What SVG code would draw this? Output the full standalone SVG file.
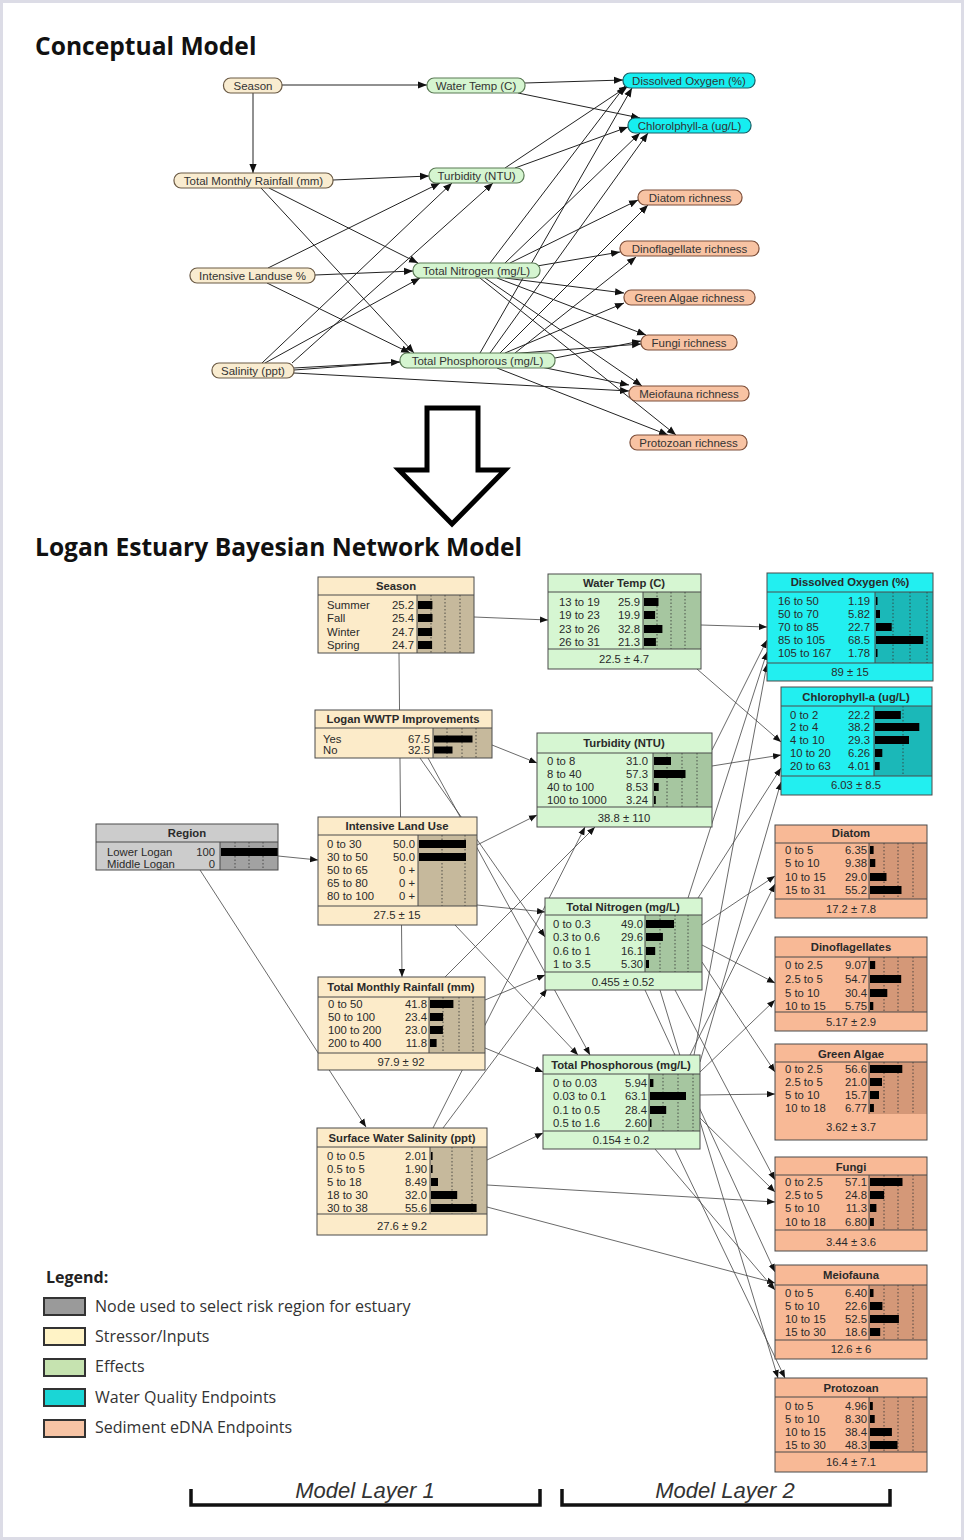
<svg xmlns="http://www.w3.org/2000/svg" width="964" height="1540" viewBox="0 0 964 1540">
<defs>
<marker id="ah" viewBox="0 0 10 10" refX="10" refY="5" markerWidth="9" markerHeight="9" markerUnits="userSpaceOnUse" orient="auto"><path d="M0,1 L10,5 L0,9 z" fill="#111"/></marker>
<marker id="ah2" viewBox="0 0 10 10" refX="10" refY="5" markerWidth="8" markerHeight="8" markerUnits="userSpaceOnUse" orient="auto"><path d="M0,1 L10,5 L0,9 z" fill="#111"/></marker>
</defs>
<style>
text{font-family:"Liberation Sans",Arial,sans-serif}
.h{font-family:"Open Sans","Liberation Sans",sans-serif;font-size:24.6px;font-weight:bold;fill:#111}
.ct{font-size:11.5px;fill:#333;text-anchor:middle}
.cb{fill:#f9ecd0;stroke:#6b5a45;stroke-width:1.2}
.cg{fill:#d5f5d0;stroke:#5b7a55;stroke-width:1.2}
.cc{fill:#16eef0;stroke:#1a5f66;stroke-width:1.2}
.cs{fill:#f8c3a3;stroke:#7d4f3a;stroke-width:1.2}
.e{stroke:#222;stroke-width:1;fill:none;marker-end:url(#ah)}
.l{stroke:#444;stroke-width:0.8;fill:none;marker-end:url(#ah2)}
.nt{font-size:11.3px;fill:#2a2a2a}
.ttl{font-size:11.3px;font-weight:bold;fill:#2a2a2a;text-anchor:middle}
.r{text-anchor:end}
.m{text-anchor:middle}
.bd{fill:none;stroke:#4a4a4a;stroke-width:1}
.sep{stroke:#4a4a4a;stroke-width:1;fill:none}
.dt{stroke:#333;stroke-width:0.8;stroke-dasharray:1.5 2;fill:none}
.br{fill:#000}
.beige{fill:#fcebc9}.beigeb{fill:#c6b99c}
.green{fill:#d6f6d2}.greenb{fill:#a6c6a0}
.cyan{fill:#22eff0}.cyanb{fill:#1bb8b8}
.salm{fill:#f8b996}.salmb{fill:#d49878}
.gray{fill:#cccccc}.grayb{fill:#a2a2a2}
.lg{font-family:"Open Sans","Liberation Sans",sans-serif;font-size:16px;fill:#333}
.lb{stroke:#333;stroke-width:2}
.ml{font-size:22px;font-style:italic;fill:#333;text-anchor:middle}
</style>
<rect x="1.5" y="1.5" width="961" height="1537" fill="#fff" stroke="#dcdce6" stroke-width="3"/>
<text class="h" x="35" y="55">Conceptual Model</text>
<text class="h" x="35" y="556">Logan Estuary Bayesian Network Model</text>

<g id="concept-links">
<path class="e" d="M282,85 L427,85"/>
<path class="e" d="M253,93 L253,173"/>
<path class="e" d="M525,83 L623,80"/>
<path class="e" d="M518,93 L640,118"/>
<path class="e" d="M333,180 L429,176"/>
<path class="e" d="M269,188 L418,263"/>
<path class="e" d="M261,188 L414,353"/>
<path class="e" d="M268,268 L440,183"/>
<path class="e" d="M262,363 L452,183"/>
<path class="e" d="M292,363 L493,183"/>
<path class="e" d="M315,275 L413,271"/>
<path class="e" d="M267,283 L410,353"/>
<path class="e" d="M265,363 L420,278"/>
<path class="e" d="M294,368 L400,362"/>
<path class="e" d="M294,370 L641,344"/>
<path class="e" d="M294,373 L629,391"/>
<path class="e" d="M515,168 L628,127"/>
<path class="e" d="M505,168 L628,86"/>
<path class="e" d="M490,263 L625,86"/>
<path class="e" d="M505,263 L640,133"/>
<path class="e" d="M510,263 L638,200"/>
<path class="e" d="M537,266 L620,252"/>
<path class="e" d="M505,278 L624,293"/>
<path class="e" d="M497,278 L646,335"/>
<path class="e" d="M485,278 L642,386"/>
<path class="e" d="M480,278 L676,435"/>
<path class="e" d="M480,353 L632,88"/>
<path class="e" d="M490,353 L648,133"/>
<path class="e" d="M500,353 L648,205"/>
<path class="e" d="M515,353 L636,257"/>
<path class="e" d="M505,353 L624,303"/>
<path class="e" d="M555,358 L641,341"/>
<path class="e" d="M541,367 L629,385"/>
<path class="e" d="M497,368 L668,435"/>
</g>

<g id="c-season"><rect class="cb" x="223.5" y="78" width="58.5" height="15" rx="7"/><text class="ct" x="253" y="89.5">Season</text></g>
<g id="c-watertemp"><rect class="cg" x="427" y="78" width="98" height="15" rx="7"/><text class="ct" x="476" y="89.5">Water Temp (C)</text></g>
<g id="c-do"><rect class="cc" x="623" y="73" width="132" height="15" rx="7"/><text class="ct" x="689" y="84.5">Dissolved Oxygen (%)</text></g>
<g id="c-chl"><rect class="cc" x="628" y="118" width="123" height="15" rx="7"/><text class="ct" x="689.5" y="129.5">Chlorolphyll-a (ug/L)</text></g>
<g id="c-rainfall"><rect class="cb" x="174" y="173" width="159" height="15" rx="7"/><text class="ct" x="253.5" y="184.5">Total Monthly Rainfall (mm)</text></g>
<g id="c-turbidity"><rect class="cg" x="429" y="168" width="95" height="15" rx="7"/><text class="ct" x="476.5" y="179.5">Turbidity (NTU)</text></g>
<g id="c-diatom"><rect class="cs" x="638" y="190" width="104" height="15" rx="7"/><text class="ct" x="690" y="201.5">Diatom richness</text></g>
<g id="c-dino"><rect class="cs" x="620" y="241" width="139" height="15" rx="7"/><text class="ct" x="689.5" y="252.5">Dinoflagellate richness</text></g>
<g id="c-landuse"><rect class="cb" x="190" y="268" width="125" height="15" rx="7"/><text class="ct" x="252.5" y="279.5">Intensive Landuse %</text></g>
<g id="c-tn"><rect class="cg" x="413" y="263" width="127" height="15" rx="7"/><text class="ct" x="476.5" y="274.5">Total Nitrogen (mg/L)</text></g>
<g id="c-greenalgae"><rect class="cs" x="624" y="290" width="131" height="15" rx="7"/><text class="ct" x="689.5" y="301.5">Green Algae richness</text></g>
<g id="c-fungi"><rect class="cs" x="641" y="335" width="96" height="15" rx="7"/><text class="ct" x="689" y="346.5">Fungi richness</text></g>
<g id="c-salinity"><rect class="cb" x="212" y="363" width="82" height="15" rx="7"/><text class="ct" x="253" y="374.5">Salinity (ppt)</text></g>
<g id="c-tp"><rect class="cg" x="400" y="353" width="155" height="15" rx="7"/><text class="ct" x="477.5" y="364.5">Total Phosphorous (mg/L)</text></g>
<g id="c-meiofauna"><rect class="cs" x="629" y="386" width="120" height="15" rx="7"/><text class="ct" x="689" y="397.5">Meiofauna richness</text></g>
<g id="c-protozoan"><rect class="cs" x="630" y="435" width="117" height="15" rx="7"/><text class="ct" x="688.5" y="446.5">Protozoan richness</text></g>

<g id="big-arrow"><path d="M427,408 L478,408 L478,470 L505,470 L452,524 L399,470 L427,470 Z" fill="#fff" stroke="#000" stroke-width="5"/></g>

<g id="bn-links">
<path class="l" d="M474,617 L548,620"/>
<path class="l" d="M399,653 L402,977"/>
<path class="l" d="M492,745 L537,763"/>
<path class="l" d="M420,758 L545,937"/>
<path class="l" d="M428,758 L590,1055"/>
<path class="l" d="M278,856 L318,860"/>
<path class="l" d="M200,870 L366,1127"/>
<path class="l" d="M477,845 L537,815"/>
<path class="l" d="M477,905 L545,912"/>
<path class="l" d="M455,925 L578,1055"/>
<path class="l" d="M445,977 L595,827"/>
<path class="l" d="M485,1000 L545,975"/>
<path class="l" d="M485,1048 L543,1072"/>
<path class="l" d="M433,1128 L585,827"/>
<path class="l" d="M443,1128 L547,989"/>
<path class="l" d="M487,1160 L543,1133"/>
<path class="l" d="M487,1185 L775,1202"/>
<path class="l" d="M487,1207 L775,1283"/>
<path class="l" d="M701,625 L767,627"/>
<path class="l" d="M697,669 L781,742"/>
<path class="l" d="M712,750 L767,640"/>
<path class="l" d="M712,766 L781,755"/>
<path class="l" d="M688,898 L767,652"/>
<path class="l" d="M698,898 L781,768"/>
<path class="l" d="M694,1055 L767,664"/>
<path class="l" d="M700,1062 L781,782"/>
<path class="l" d="M702,925 L775,876"/>
<path class="l" d="M690,1055 L775,884"/>
<path class="l" d="M702,945 L775,983"/>
<path class="l" d="M700,1072 L775,1000"/>
<path class="l" d="M702,962 L775,1072"/>
<path class="l" d="M700,1095 L775,1094"/>
<path class="l" d="M675,990 L775,1180"/>
<path class="l" d="M700,1118 L775,1192"/>
<path class="l" d="M645,990 L775,1272"/>
<path class="l" d="M655,1149 L775,1290"/>
<path class="l" d="M660,990 L778,1378"/>
<path class="l" d="M675,1149 L785,1378"/>
</g>

<g id="bn-season">
<rect class="beige" x="318" y="577" width="156" height="76"/>
<rect class="beigeb" x="417" y="595" width="57" height="58"/>
<path class="dt" d="M431,595V653M445,595V653M460,595V653"/>
<rect class="br" x="418" y="601" width="14.4" height="8"/><rect class="br" x="418" y="614" width="14.5" height="8"/><rect class="br" x="418" y="628" width="14.1" height="8"/><rect class="br" x="418" y="641" width="14.1" height="8"/>
<text class="ttl" x="396" y="590">Season</text>
<text class="nt" x="327" y="609">Summer</text><text class="nt r" x="414" y="609">25.2</text>
<text class="nt" x="327" y="622">Fall</text><text class="nt r" x="414" y="622">25.4</text>
<text class="nt" x="327" y="636">Winter</text><text class="nt r" x="414" y="636">24.7</text>
<text class="nt" x="327" y="649">Spring</text><text class="nt r" x="414" y="649">24.7</text>
<path class="sep" d="M318,595H474M417,595V653"/>
<rect class="bd" x="318" y="577" width="156" height="76"/>
</g>

<g id="bn-watertemp">
<rect class="green" x="548" y="574" width="153" height="95"/>
<rect class="greenb" x="643" y="592" width="58" height="57"/>
<path class="dt" d="M657,592V649M671,592V649M685,592V649"/>
<rect class="br" x="644" y="598" width="14.5" height="8"/><rect class="br" x="644" y="611" width="11.1" height="8"/><rect class="br" x="644" y="625" width="18.4" height="8"/><rect class="br" x="644" y="638" width="11.9" height="8"/>
<text class="ttl" x="624" y="587">Water Temp (C)</text>
<text class="nt" x="559" y="606">13 to 19</text><text class="nt r" x="640" y="606">25.9</text>
<text class="nt" x="559" y="619">19 to 23</text><text class="nt r" x="640" y="619">19.9</text>
<text class="nt" x="559" y="633">23 to 26</text><text class="nt r" x="640" y="633">32.8</text>
<text class="nt" x="559" y="646">26 to 31</text><text class="nt r" x="640" y="646">21.3</text>
<text class="nt m" x="624" y="663">22.5 ± 4.7</text>
<path class="sep" d="M548,592H701M548,649H701M643,592V649"/>
<rect class="bd" x="548" y="574" width="153" height="95"/>
</g>

<g id="bn-wwtp">
<rect class="beige" x="315" y="710" width="177" height="48"/>
<rect class="beigeb" x="433" y="728" width="59" height="30"/>
<path class="dt" d="M447,728V758M462,728V758M476,728V758"/>
<rect class="br" x="434" y="735.5" width="38.5" height="7"/><rect class="br" x="434" y="746.5" width="18.5" height="7"/>
<text class="ttl" x="403" y="723">Logan WWTP Improvements</text>
<text class="nt" x="323" y="743">Yes</text><text class="nt r" x="430" y="743">67.5</text>
<text class="nt" x="323" y="754">No</text><text class="nt r" x="430" y="754">32.5</text>
<path class="sep" d="M315,728H492M433,728V758"/>
<rect class="bd" x="315" y="710" width="177" height="48"/>
</g>

<g id="bn-do">
<rect class="cyan" x="767" y="573" width="166" height="108"/>
<rect class="cyanb" x="875" y="592" width="58" height="71"/>
<path class="dt" d="M893,592V663M910,592V663M927,592V663"/>
<rect class="br" x="876" y="597" width="1.5" height="8"/><rect class="br" x="876" y="610" width="4" height="8"/><rect class="br" x="876" y="623" width="15.7" height="8"/><rect class="br" x="876" y="636" width="47.3" height="8"/><rect class="br" x="876" y="649" width="1.5" height="8"/>
<text class="ttl" x="850" y="586">Dissolved Oxygen (%)</text>
<text class="nt" x="778" y="605">16 to 50</text><text class="nt r" x="870" y="605">1.19</text>
<text class="nt" x="778" y="618">50 to 70</text><text class="nt r" x="870" y="618">5.82</text>
<text class="nt" x="778" y="631">70 to 85</text><text class="nt r" x="870" y="631">22.7</text>
<text class="nt" x="778" y="644">85 to 105</text><text class="nt r" x="870" y="644">68.5</text>
<text class="nt" x="778" y="657">105 to 167</text><text class="nt r" x="870" y="657">1.78</text>
<text class="nt m" x="850" y="676">89 ± 15</text>
<path class="sep" d="M767,592H933M767,663H933M875,592V663"/>
<rect class="bd" x="767" y="573" width="166" height="108"/>
</g>

<g id="bn-chl">
<rect class="cyan" x="781" y="687" width="151" height="108"/>
<rect class="cyanb" x="874" y="706" width="58" height="70"/>
<path class="dt" d="M903,706V776"/>
<rect class="br" x="875" y="711" width="25.8" height="8"/><rect class="br" x="875" y="723" width="44.3" height="8"/><rect class="br" x="875" y="736" width="34" height="8"/><rect class="br" x="875" y="749" width="7.3" height="8"/><rect class="br" x="875" y="762" width="4.7" height="8"/>
<text class="ttl" x="856" y="701">Chlorophyll-a (ug/L)</text>
<text class="nt" x="790" y="719">0 to 2</text><text class="nt r" x="870" y="719">22.2</text>
<text class="nt" x="790" y="731">2 to 4</text><text class="nt r" x="870" y="731">38.2</text>
<text class="nt" x="790" y="744">4 to 10</text><text class="nt r" x="870" y="744">29.3</text>
<text class="nt" x="790" y="757">10 to 20</text><text class="nt r" x="870" y="757">6.26</text>
<text class="nt" x="790" y="770">20 to 63</text><text class="nt r" x="870" y="770">4.01</text>
<text class="nt m" x="856" y="789">6.03 ± 8.5</text>
<path class="sep" d="M781,706H932M781,776H932M874,706V776"/>
<rect class="bd" x="781" y="687" width="151" height="108"/>
</g>

<g id="bn-region">
<rect class="gray" x="96" y="824" width="182" height="46"/>
<rect class="grayb" x="220" y="842" width="58" height="28"/>
<path class="dt" d="M235,842V870M249,842V870M263,842V870"/>
<rect class="br" x="221" y="848" width="57" height="8"/>
<text class="ttl" x="187" y="837">Region</text>
<text class="nt" x="107" y="856">Lower Logan</text><text class="nt r" x="215" y="856">100</text>
<text class="nt" x="107" y="868">Middle Logan</text><text class="nt r" x="215" y="868">0</text>
<path class="sep" d="M96,842H278M220,842V870"/>
<rect class="bd" x="96" y="824" width="182" height="46"/>
</g>

<g id="bn-landuse">
<rect class="beige" x="318" y="817" width="159" height="108"/>
<rect class="beigeb" x="418" y="835" width="59" height="71"/>
<path class="dt" d="M442,835V906M465,835V906"/>
<rect class="br" x="419" y="840" width="47" height="8"/><rect class="br" x="419" y="853" width="47" height="8"/>
<text class="ttl" x="397" y="830">Intensive Land Use</text>
<text class="nt" x="327" y="848">0 to 30</text><text class="nt r" x="415" y="848">50.0</text>
<text class="nt" x="327" y="861">30 to 50</text><text class="nt r" x="415" y="861">50.0</text>
<text class="nt" x="327" y="874">50 to 65</text><text class="nt r" x="415" y="874">0 +</text>
<text class="nt" x="327" y="887">65 to 80</text><text class="nt r" x="415" y="887">0 +</text>
<text class="nt" x="327" y="900">80 to 100</text><text class="nt r" x="415" y="900">0 +</text>
<text class="nt m" x="397" y="919">27.5 ± 15</text>
<path class="sep" d="M318,835H477M318,906H477M418,835V906"/>
<rect class="bd" x="318" y="817" width="159" height="108"/>
</g>

<g id="bn-turbidity">
<rect class="green" x="537" y="733" width="175" height="94"/>
<rect class="greenb" x="653" y="753" width="59" height="54"/>
<path class="dt" d="M667,753V807M682,753V807M697,753V807"/>
<rect class="br" x="654" y="757" width="17" height="8"/><rect class="br" x="654" y="770" width="31.5" height="8"/><rect class="br" x="654" y="783" width="4.7" height="8"/><rect class="br" x="654" y="796" width="1.8" height="8"/>
<text class="ttl" x="624" y="747">Turbidity (NTU)</text>
<text class="nt" x="547" y="765">0 to 8</text><text class="nt r" x="648" y="765">31.0</text>
<text class="nt" x="547" y="778">8 to 40</text><text class="nt r" x="648" y="778">57.3</text>
<text class="nt" x="547" y="791">40 to 100</text><text class="nt r" x="648" y="791">8.53</text>
<text class="nt" x="547" y="804">100 to 1000</text><text class="nt r" x="648" y="804">3.24</text>
<text class="nt m" x="624" y="822">38.8 ± 110</text>
<path class="sep" d="M537,753H712M537,807H712M653,753V807"/>
<rect class="bd" x="537" y="733" width="175" height="94"/>
</g>

<g id="bn-tn">
<rect class="green" x="545" y="898" width="157" height="92"/>
<rect class="greenb" x="645" y="915" width="57" height="57"/>
<path class="dt" d="M660,915V972M675,915V972M688,915V972"/>
<rect class="br" x="646" y="920" width="28" height="8"/><rect class="br" x="646" y="933" width="16.9" height="8"/><rect class="br" x="646" y="947" width="9.2" height="8"/><rect class="br" x="646" y="960" width="3" height="8"/>
<text class="ttl" x="623" y="911">Total Nitrogen (mg/L)</text>
<text class="nt" x="553" y="928">0 to 0.3</text><text class="nt r" x="643" y="928">49.0</text>
<text class="nt" x="553" y="941">0.3 to 0.6</text><text class="nt r" x="643" y="941">29.6</text>
<text class="nt" x="553" y="955">0.6 to 1</text><text class="nt r" x="643" y="955">16.1</text>
<text class="nt" x="553" y="968">1 to 3.5</text><text class="nt r" x="643" y="968">5.30</text>
<text class="nt m" x="623" y="986">0.455 ± 0.52</text>
<path class="sep" d="M545,915H702M545,972H702M645,915V972"/>
<rect class="bd" x="545" y="898" width="157" height="92"/>
</g>

<g id="bn-rainfall">
<rect class="beige" x="318" y="977" width="167" height="93"/>
<rect class="beigeb" x="429" y="997" width="56" height="56"/>
<path class="dt" d="M443,997V1053M459,997V1053M473,997V1053"/>
<rect class="br" x="430" y="1000" width="23.4" height="8"/><rect class="br" x="430" y="1013" width="13.1" height="8"/><rect class="br" x="430" y="1026" width="12.9" height="8"/><rect class="br" x="430" y="1039" width="6.6" height="8"/>
<text class="ttl" x="401" y="991">Total Monthly Rainfall (mm)</text>
<text class="nt" x="328" y="1008">0 to 50</text><text class="nt r" x="427" y="1008">41.8</text>
<text class="nt" x="328" y="1021">50 to 100</text><text class="nt r" x="427" y="1021">23.4</text>
<text class="nt" x="328" y="1034">100 to 200</text><text class="nt r" x="427" y="1034">23.0</text>
<text class="nt" x="328" y="1047">200 to 400</text><text class="nt r" x="427" y="1047">11.8</text>
<text class="nt m" x="401" y="1066">97.9 ± 92</text>
<path class="sep" d="M318,997H485M318,1053H485M429,997V1053"/>
<rect class="bd" x="318" y="977" width="167" height="93"/>
</g>

<g id="bn-tp">
<rect class="green" x="543" y="1055" width="157" height="94"/>
<rect class="greenb" x="649" y="1074" width="51" height="57"/>
<path class="dt" d="M663,1074V1131M678,1074V1131M693,1074V1131"/>
<rect class="br" x="650" y="1079" width="3.4" height="8"/><rect class="br" x="650" y="1092" width="36" height="8"/><rect class="br" x="650" y="1106" width="16.2" height="8"/><rect class="br" x="650" y="1119" width="1.5" height="8"/>
<text class="ttl" x="621" y="1069">Total Phosphorous (mg/L)</text>
<text class="nt" x="553" y="1087">0 to 0.03</text><text class="nt r" x="647" y="1087">5.94</text>
<text class="nt" x="553" y="1100">0.03 to 0.1</text><text class="nt r" x="647" y="1100">63.1</text>
<text class="nt" x="553" y="1114">0.1 to 0.5</text><text class="nt r" x="647" y="1114">28.4</text>
<text class="nt" x="553" y="1127">0.5 to 1.6</text><text class="nt r" x="647" y="1127">2.60</text>
<text class="nt m" x="621" y="1144">0.154 ± 0.2</text>
<path class="sep" d="M543,1074H700M543,1131H700M649,1074V1131"/>
<rect class="bd" x="543" y="1055" width="157" height="94"/>
</g>

<g id="bn-salinity">
<rect class="beige" x="317" y="1128" width="170" height="107"/>
<rect class="beigeb" x="430" y="1147" width="57" height="67"/>
<path class="dt" d="M452,1147V1214M472,1147V1214"/>
<rect class="br" x="431" y="1152" width="1.6" height="8"/><rect class="br" x="431" y="1165" width="1.6" height="8"/><rect class="br" x="431" y="1178" width="7" height="8"/><rect class="br" x="431" y="1191" width="26.2" height="8"/><rect class="br" x="431" y="1204" width="45.6" height="8"/>
<text class="ttl" x="402" y="1142">Surface Water Salinity (ppt)</text>
<text class="nt" x="327" y="1160">0 to 0.5</text><text class="nt r" x="427" y="1160">2.01</text>
<text class="nt" x="327" y="1173">0.5 to 5</text><text class="nt r" x="427" y="1173">1.90</text>
<text class="nt" x="327" y="1186">5 to 18</text><text class="nt r" x="427" y="1186">8.49</text>
<text class="nt" x="327" y="1199">18 to 30</text><text class="nt r" x="427" y="1199">32.0</text>
<text class="nt" x="327" y="1212">30 to 38</text><text class="nt r" x="427" y="1212">55.6</text>
<text class="nt m" x="402" y="1230">27.6 ± 9.2</text>
<path class="sep" d="M317,1147H487M317,1214H487M430,1147V1214"/>
<rect class="bd" x="317" y="1128" width="170" height="107"/>
</g>

<g id="bn-diatom">
<rect class="salm" x="775" y="825" width="152" height="93"/>
<rect class="salmb" x="869" y="843" width="58" height="56"/>
<path class="dt" d="M884,843V899M898,843V899M913,843V899"/>
<rect class="br" x="870" y="846" width="3.6" height="8"/><rect class="br" x="870" y="859" width="5.3" height="8"/><rect class="br" x="870" y="873" width="16.5" height="8"/><rect class="br" x="870" y="886" width="31.5" height="8"/>
<text class="ttl" x="851" y="837">Diatom</text>
<text class="nt" x="785" y="854">0 to 5</text><text class="nt r" x="867" y="854">6.35</text>
<text class="nt" x="785" y="867">5 to 10</text><text class="nt r" x="867" y="867">9.38</text>
<text class="nt" x="785" y="881">10 to 15</text><text class="nt r" x="867" y="881">29.0</text>
<text class="nt" x="785" y="894">15 to 31</text><text class="nt r" x="867" y="894">55.2</text>
<text class="nt m" x="851" y="913">17.2 ± 7.8</text>
<path class="sep" d="M775,843H927M775,899H927M869,843V899"/>
<rect class="bd" x="775" y="825" width="152" height="93"/>
</g>

<g id="bn-dino">
<rect class="salm" x="775" y="937" width="152" height="94"/>
<rect class="salmb" x="869" y="957" width="58" height="55"/>
<path class="dt" d="M884,957V1012M898,957V1012M913,957V1012"/>
<rect class="br" x="870" y="961" width="5.2" height="8"/><rect class="br" x="870" y="975" width="31.2" height="8"/><rect class="br" x="870" y="989" width="17.3" height="8"/><rect class="br" x="870" y="1002" width="3.3" height="8"/>
<text class="ttl" x="851" y="951">Dinoflagellates</text>
<text class="nt" x="785" y="969">0 to 2.5</text><text class="nt r" x="867" y="969">9.07</text>
<text class="nt" x="785" y="983">2.5 to 5</text><text class="nt r" x="867" y="983">54.7</text>
<text class="nt" x="785" y="997">5 to 10</text><text class="nt r" x="867" y="997">30.4</text>
<text class="nt" x="785" y="1010">10 to 15</text><text class="nt r" x="867" y="1010">5.75</text>
<text class="nt m" x="851" y="1026">5.17 ± 2.9</text>
<path class="sep" d="M775,957H927M775,1012H927M869,957V1012"/>
<rect class="bd" x="775" y="937" width="152" height="94"/>
</g>

<g id="bn-greenalgae">
<rect class="salm" x="775" y="1044" width="152" height="96"/>
<rect class="salmb" x="869" y="1062" width="58" height="52"/>
<path class="dt" d="M884,1062V1114M898,1062V1114M913,1062V1114"/>
<rect class="br" x="870" y="1065" width="32.3" height="8"/><rect class="br" x="870" y="1078" width="12" height="8"/><rect class="br" x="870" y="1091" width="9" height="8"/><rect class="br" x="870" y="1104" width="3.9" height="8"/>
<text class="ttl" x="851" y="1058">Green Algae</text>
<text class="nt" x="785" y="1073">0 to 2.5</text><text class="nt r" x="867" y="1073">56.6</text>
<text class="nt" x="785" y="1086">2.5 to 5</text><text class="nt r" x="867" y="1086">21.0</text>
<text class="nt" x="785" y="1099">5 to 10</text><text class="nt r" x="867" y="1099">15.7</text>
<text class="nt" x="785" y="1112">10 to 18</text><text class="nt r" x="867" y="1112">6.77</text>
<text class="nt m" x="851" y="1131">3.62 ± 3.7</text>
<path class="sep" d="M775,1062H927M869,1062V1114"/>
<rect class="bd" x="775" y="1044" width="152" height="96"/>
</g>

<g id="bn-fungi">
<rect class="salm" x="775" y="1157" width="152" height="94"/>
<rect class="salmb" x="869" y="1175" width="58" height="55"/>
<path class="dt" d="M884,1175V1230M898,1175V1230M913,1175V1230"/>
<rect class="br" x="870" y="1178" width="32.5" height="8"/><rect class="br" x="870" y="1191" width="14.1" height="8"/><rect class="br" x="870" y="1204" width="6.4" height="8"/><rect class="br" x="870" y="1218" width="3.9" height="8"/>
<text class="ttl" x="851" y="1171">Fungi</text>
<text class="nt" x="785" y="1186">0 to 2.5</text><text class="nt r" x="867" y="1186">57.1</text>
<text class="nt" x="785" y="1199">2.5 to 5</text><text class="nt r" x="867" y="1199">24.8</text>
<text class="nt" x="785" y="1212">5 to 10</text><text class="nt r" x="867" y="1212">11.3</text>
<text class="nt" x="785" y="1226">10 to 18</text><text class="nt r" x="867" y="1226">6.80</text>
<text class="nt m" x="851" y="1246">3.44 ± 3.6</text>
<path class="sep" d="M775,1175H927M775,1230H927M869,1175V1230"/>
<rect class="bd" x="775" y="1157" width="152" height="94"/>
</g>

<g id="bn-meiofauna">
<rect class="salm" x="775" y="1265" width="152" height="94"/>
<rect class="salmb" x="869" y="1285" width="58" height="55"/>
<path class="dt" d="M884,1285V1340M898,1285V1340M913,1285V1340"/>
<rect class="br" x="870" y="1289" width="3.5" height="8"/><rect class="br" x="870" y="1302" width="12.4" height="8"/><rect class="br" x="870" y="1315" width="28.9" height="8"/><rect class="br" x="870" y="1328" width="10.2" height="8"/>
<text class="ttl" x="851" y="1279">Meiofauna</text>
<text class="nt" x="785" y="1297">0 to 5</text><text class="nt r" x="867" y="1297">6.40</text>
<text class="nt" x="785" y="1310">5 to 10</text><text class="nt r" x="867" y="1310">22.6</text>
<text class="nt" x="785" y="1323">10 to 15</text><text class="nt r" x="867" y="1323">52.5</text>
<text class="nt" x="785" y="1336">15 to 30</text><text class="nt r" x="867" y="1336">18.6</text>
<text class="nt m" x="851" y="1353">12.6 ± 6</text>
<path class="sep" d="M775,1285H927M775,1340H927M869,1285V1340"/>
<rect class="bd" x="775" y="1265" width="152" height="94"/>
</g>

<g id="bn-protozoan">
<rect class="salm" x="775" y="1378" width="152" height="94"/>
<rect class="salmb" x="869" y="1397" width="58" height="55"/>
<path class="dt" d="M884,1397V1452M898,1397V1452M913,1397V1452"/>
<rect class="br" x="870" y="1402" width="2.8" height="8"/><rect class="br" x="870" y="1415" width="4.7" height="8"/><rect class="br" x="870" y="1428" width="21.9" height="8"/><rect class="br" x="870" y="1441" width="27.5" height="8"/>
<text class="ttl" x="851" y="1392">Protozoan</text>
<text class="nt" x="785" y="1410">0 to 5</text><text class="nt r" x="867" y="1410">4.96</text>
<text class="nt" x="785" y="1423">5 to 10</text><text class="nt r" x="867" y="1423">8.30</text>
<text class="nt" x="785" y="1436">10 to 15</text><text class="nt r" x="867" y="1436">38.4</text>
<text class="nt" x="785" y="1449">15 to 30</text><text class="nt r" x="867" y="1449">48.3</text>
<text class="nt m" x="851" y="1466">16.4 ± 7.1</text>
<path class="sep" d="M775,1397H927M775,1452H927M869,1397V1452"/>
<rect class="bd" x="775" y="1378" width="152" height="94"/>
</g>

<g id="legend">
<text x="46" y="1283" style="font-family:'Open Sans','Liberation Sans',sans-serif;font-size:16px;font-weight:bold;fill:#222">Legend:</text>
<rect class="lb" x="44" y="1298" width="41" height="17" fill="#9a9a9a"/>
<rect class="lb" x="44" y="1328" width="41" height="17" fill="#fff3c6"/>
<rect class="lb" x="44" y="1359" width="41" height="17" fill="#c6e3b0"/>
<rect class="lb" x="44" y="1389" width="41" height="17" fill="#1ad6d6"/>
<rect class="lb" x="44" y="1420" width="41" height="17" fill="#f7c4a5"/>
<text class="lg" x="95" y="1312">Node used to select risk region for estuary</text>
<text class="lg" x="95" y="1342">Stressor/Inputs</text>
<text class="lg" x="95" y="1372">Effects</text>
<text class="lg" x="95" y="1403">Water Quality Endpoints</text>
<text class="lg" x="95" y="1433">Sediment eDNA Endpoints</text>
</g>

<g id="layers">
<path d="M191,1489 V1505 H540 V1489" fill="none" stroke="#111" stroke-width="3.5"/>
<path d="M562,1489 V1505 H890 V1489" fill="none" stroke="#111" stroke-width="3.5"/>
<text class="ml" x="365" y="1498">Model Layer 1</text>
<text class="ml" x="725" y="1498">Model Layer 2</text>
</g>
</svg>
